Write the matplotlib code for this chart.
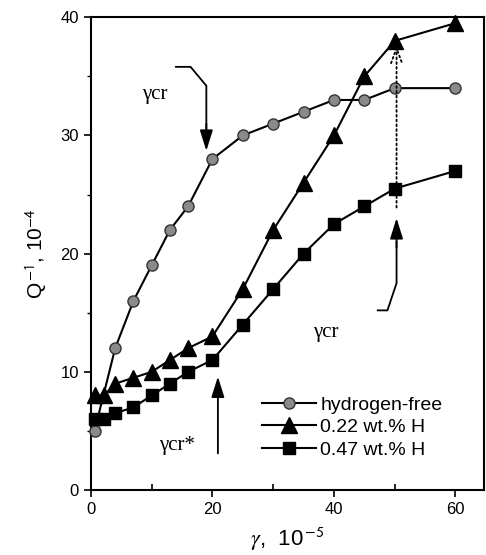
import numpy as np
import matplotlib
matplotlib.use("Agg")
import matplotlib.pyplot as plt
from matplotlib.ticker import MultipleLocator

plt.rcParams['font.family'] = ['Liberation Sans', 'DejaVu Sans']
plt.rcParams['mathtext.fontset'] = 'stix'

# data
x_free = [0.6, 4, 7, 10, 13, 16, 20, 25, 30, 35, 40, 45, 50, 60]
q_free = [5.0, 12.0, 16.0, 19.0, 22.0, 24.0, 28.0, 30.0, 31.0, 32.0, 33.0, 33.0, 34.0, 34.0]

x_h022 = [0.6, 2.2, 4, 7, 10, 13, 16, 20, 25, 30, 35, 40, 45, 50, 60]
q_h022 = [8.0, 8.0, 9.0, 9.5, 10.0, 11.0, 12.0, 13.0, 17.0, 22.0, 26.0, 30.0, 35.0, 38.0, 39.5]

x_h047 = [0.6, 2.2, 4, 7, 10, 13, 16, 20, 25, 30, 35, 40, 45, 50, 60]
q_h047 = [6.0, 6.0, 6.5, 7.0, 8.0, 9.0, 10.0, 11.0, 14.0, 17.0, 20.0, 22.5, 24.0, 25.5, 27.0]

labels = ['hydrogen-free', '0.22 wt.% H', '0.47 wt.% H']

fig = plt.figure(figsize=(4.86, 5.55), dpi=100)
ax = fig.add_axes([0.187, 0.117, 0.809, 0.852])

ax.plot(x_free, q_free, '-o', color='black', lw=1.5, ms=8,
        mfc='#8a8a8a', mec='#333333', mew=1.0, label=labels[0], clip_on=False, zorder=3)
ax.plot(x_h022, q_h022, '-^', color='black', lw=1.5, ms=11,
        mfc='black', mec='black', label=labels[1], clip_on=False, zorder=3)
ax.plot(x_h047, q_h047, '-s', color='black', lw=1.5, ms=8.5,
        mfc='black', mec='black', label=labels[2], clip_on=False, zorder=3)

ax.set_xlim(0, 64.7)
ax.set_ylim(0, 40)
ax.xaxis.set_major_locator(MultipleLocator(20))
ax.xaxis.set_minor_locator(MultipleLocator(10))
ax.yaxis.set_major_locator(MultipleLocator(10))
ax.yaxis.set_minor_locator(MultipleLocator(5))
ax.tick_params(which='major', direction='out', length=5, width=1.2, labelsize=12)
ax.tick_params(axis='x', which='minor', direction='in', length=4, width=1.2)
ax.tick_params(axis='y', which='minor', direction='out', length=3, width=1.0)
for s in ax.spines.values():
    s.set_linewidth(1.5)

ax.set_xlabel(r'$\gamma$,  10$^{\,\mathsf{-5}}$', fontsize=16, labelpad=6)
ax.set_ylabel(r'Q$^{\,\mathsf{-1}}$, 10$^{\mathsf{-4}}$', fontsize=15, labelpad=8)

# annotations
arrow = dict(arrowstyle='-|>,head_length=0.7,head_width=0.22', color='black', lw=1.3,
             mutation_scale=18, shrinkA=0, shrinkB=0)
serif = ['Liberation Serif', 'DejaVu Serif']

ax.plot([14.0, 16.4, 19.0, 19.0], [35.8, 35.8, 34.2, 30.5], color='black', lw=1.3)
ax.annotate('', xy=(19.0, 28.7), xytext=(19.0, 31.0), arrowprops=arrow)
ax.text(10.5, 33.5, 'γcr', family=serif, fontsize=15, ha='center', va='center')

ax.plot([47.2, 48.8, 50.3, 50.3], [15.2, 15.2, 17.5, 21.0], color='black', lw=1.3)
ax.annotate('', xy=(50.3, 23.0), xytext=(50.3, 20.5), arrowprops=arrow)
ax.text(38.6, 13.3, 'γcr', family=serif, fontsize=15, ha='center', va='center')

ax.annotate('', xy=(50.3, 37.6), xytext=(50.3, 23.9),
            arrowprops=dict(arrowstyle='->,head_length=0.6,head_width=0.22', color='black',
                            lw=1.3, ls=':', mutation_scale=18, shrinkA=0, shrinkB=0))

ax.annotate('', xy=(20.9, 9.6), xytext=(20.9, 3.1), arrowprops=arrow)
ax.text(14.1, 3.8, 'γcr*', family=serif, fontsize=15, ha='center', va='center')

ax.legend(loc='lower left', bbox_to_anchor=(0.415, 0.05), frameon=False,
          fontsize=14, handlelength=2.8, handletextpad=0.2, labelspacing=0.25,
          borderaxespad=0)

fig.savefig('out.png', dpi=100)
